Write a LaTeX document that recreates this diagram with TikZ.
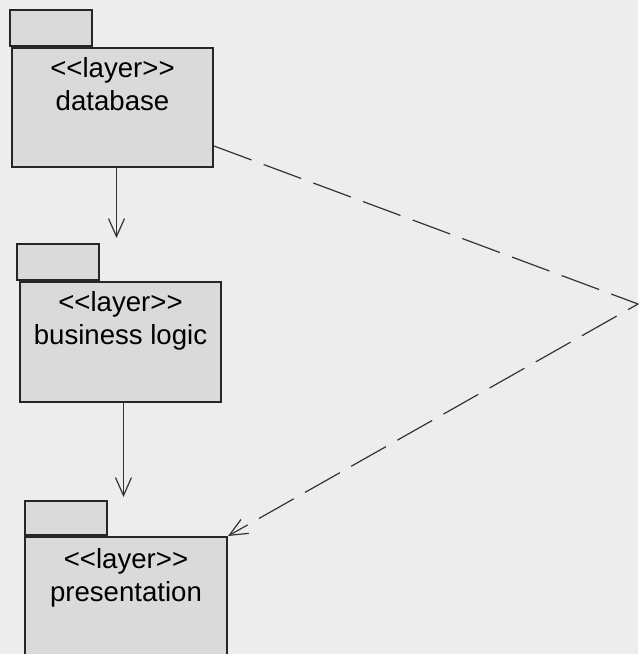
\documentclass[tikz,border=0pt]{standalone}
\usepackage{fontspec}
\newfontfamily\layerfont{Liberation Sans}
\usetikzlibrary{arrows.meta}
\usetikzlibrary{positioning}
\definecolor{paper}{HTML}{EDEDED}
\definecolor{pkgfill}{HTML}{DADADA}
\tikzset{package/.style={fill=pkgfill, draw=black!85, line width=1pt, inner sep=0pt}}
\tikzset{pkgtab/.style={package, anchor=south west, minimum width=41pt, minimum height=18pt}}
\tikzset{pkglabel/.style={font=\layerfont\fontsize{13.8}{16.5}\selectfont, align=center, inner sep=0pt, text=black}}
\tikzset{dependency/.style={line width=0.6pt, draw=black!80, -{Straight Barb[length=9pt,width=8pt]}}}
\tikzset{trace/.style={dependency, dash pattern=on 20pt off 6.5pt}}

\begin{document}
\begin{tikzpicture}[x=0.5pt,y=-0.5pt]
\fill[paper] (0,0) rectangle (638,654);
\useasboundingbox (0,0) rectangle (638,654);
%
% database layer
\node[package, minimum width=100.5pt, minimum height=59.5pt] (db) at (112.5,107.5) {};
\node[pkgtab] (dbtab) at ([xshift=-1pt]db.north west) {};
\node[pkglabel, below=5pt of db.north] (dblabel) {<<layer>>\\database};
%
% business logic layer
\node[package, minimum width=100.5pt, minimum height=60pt] (bl) at (120.5,342) {};
\node[pkgtab] (bltab) at ([xshift=-1.5pt]bl.north west) {};
\node[pkglabel, below=5pt of bl.north] (bllabel) {<<layer>>\\business logic};
%
% presentation layer (runs off the bottom)
\node[package, minimum width=101pt, minimum height=70pt] (pr) at (126,607) {};
\node[pkgtab, minimum height=17pt] (prtab) at (pr.north west) {};
\node[pkglabel, below=6pt of pr.north] (prlabel) {<<layer>>\\presentation};
%
% dependencies between the layers
\coordinate (dbout) at ([xshift=2pt]db.south);
\coordinate (blout) at ([xshift=1.5pt]bl.south);
\draw[dependency] (dbout) -- ([yshift=2.5pt]dbout |- bltab.north);
\draw[dependency] (blout) -- ([yshift=1.5pt]blout |- prtab.north);
%
% dashed link from database round to presentation
\coordinate (dbside) at ([yshift=11pt]db.south east);
\coordinate (bend) at (638,304);
\draw[trace] (dbside) -- (bend) -- (pr.north east);
\end{tikzpicture}
\end{document}
